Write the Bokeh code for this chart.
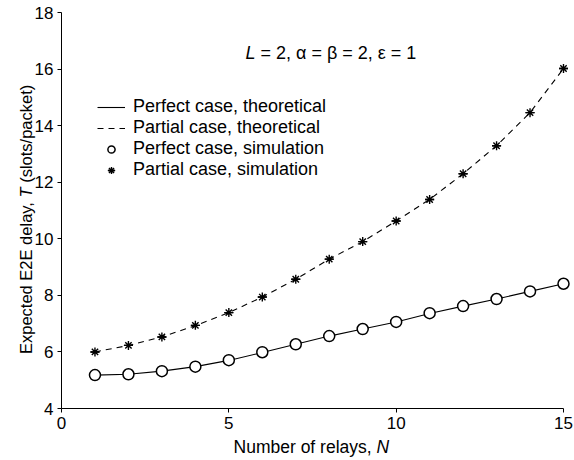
import math
from bokeh.plotting import figure
from bokeh.models import Label, Legend, LegendItem, Range1d, FixedTicker
from bokeh.embed import file_html
from bokeh.resources import INLINE

# ---- data ----
relays = [1, 2, 3, 4, 5, 6, 7, 8, 9, 10, 11, 12, 13, 14, 15]
perfect_theory = [5.18, 5.21, 5.32, 5.48, 5.70, 5.98, 6.27, 6.56, 6.81, 7.06, 7.36, 7.62, 7.87, 8.14, 8.41]
partial_theory = [6.00, 6.23, 6.53, 6.93, 7.39, 7.94, 8.57, 9.28, 9.90, 10.63, 11.39, 12.30, 13.29, 14.46, 16.02]
perfect_sim = [5.18, 5.21, 5.32, 5.48, 5.71, 5.99, 6.27, 6.56, 6.81, 7.06, 7.37, 7.62, 7.87, 8.14, 8.41]
partial_sim = [6.00, 6.23, 6.53, 6.94, 7.39, 7.94, 8.57, 9.28, 9.90, 10.63, 11.39, 12.30, 13.29, 14.46, 16.02]
x_ticks = [0, 5, 10, 15]
y_ticks = [4, 6, 8, 10, 12, 14, 16, 18]
legend_labels = ["Perfect case, theoretical", "Partial case, theoretical",
                 "Perfect case, simulation", "Partial case, simulation"]

FONT = "Liberation Sans"
NB = "\u00a0"

# ---- layout: the frame covers the whole canvas, axes sit at fixed data positions ----
W, H = 574, 460
X0, X1, Y0, Y1 = 0, 15, 4, 18
BL, BR, BT, BB = 61, 563, 12, 408          # pixel box of the data area
xs = (BR - BL) / (X1 - X0)
ys = (BB - BT) / (Y1 - Y0)
x_start, x_end = X0 - BL / xs, X1 + (W - BR) / xs
y_start, y_end = Y0 - (H - BB) / ys, Y1 + BT / ys

def dx(px):
    return x_start + px / xs
def dy(py):
    return y_end - py / ys

p = figure(width=W, height=H, x_range=Range1d(x_start, x_end), y_range=Range1d(y_start, y_end),
           output_backend="svg", toolbar_location=None,
           min_border_left=0, min_border_right=0, min_border_top=0, min_border_bottom=0)
p.outline_line_color = None
p.xgrid.visible = False
p.ygrid.visible = False
p.background_fill_color = "white"
p.border_fill_color = "white"

xa, ya = p.xaxis[0], p.yaxis[0]
xa.fixed_location = Y0
ya.fixed_location = X0
xa.bounds = (X0, X1)
ya.bounds = (Y0, Y1)
for ax in (xa, ya):
    ax.axis_line_color = "black"
    ax.axis_line_width = 1
    ax.major_tick_line_color = "black"
    ax.major_tick_in = 0
    ax.major_tick_out = 4
    ax.minor_tick_line_color = None
    ax.major_label_text_font = FONT
    ax.major_label_text_font_size = "17px"
    ax.major_label_text_color = "black"
    ax.major_label_standoff = 4
xa.ticker = FixedTicker(ticks=x_ticks)
ya.ticker = FixedTicker(ticks=y_ticks)

r1 = p.line(relays, perfect_theory, line_color="black", line_width=1.1)
r2 = p.line(relays, partial_theory, line_color="black", line_width=1.1, line_dash="6 5")
r3 = p.scatter(relays, perfect_sim, marker="circle", size=11, fill_color="white",
               line_color="black", line_width=1.5)
r4a = p.scatter(relays, partial_sim, marker="asterisk", size=9, line_color="black", line_width=1.4)
r4b = p.scatter(relays, partial_sim, marker="dash", size=9, line_color="black", line_width=1.4)

legend = Legend(items=[LegendItem(label=legend_labels[0], renderers=[r1]),
                       LegendItem(label=legend_labels[1], renderers=[r2]),
                       LegendItem(label=legend_labels[2], renderers=[r3]),
                       LegendItem(label=legend_labels[3], renderers=[r4a, r4b])],
                location=(97, H - 180), padding=0, margin=0, spacing=0,
                glyph_width=28, glyph_height=18, label_height=18, label_standoff=8,
                label_text_font=FONT, label_text_font_size="18px", label_text_color="black",
                background_fill_alpha=0, border_line_alpha=0)
p.add_layout(legend, "center")

def lab(x, y, text, size, align="left", italic=False, angle=0.0):
    p.add_layout(Label(x=x, y=y, text=text, text_font=FONT, text_font_size=size,
                       text_color="black", text_align=align, text_baseline="alphabetic",
                       text_font_style="italic" if italic else "normal", angle=angle))

# annotation
lab(dx(255), dy(52), "L", "18px", align="right", italic=True)
lab(dx(255), dy(52), NB + "=" + NB + "2," + NB + "\u03b1" + NB + "=" + NB + "\u03b2" + NB + "="
    + NB + "2," + NB + "\u03b5" + NB + "=" + NB + "1", "18px")
# x label
lab(dx(376), dy(446), "Number" + NB + "of" + NB + "relays," + NB, "17.5px", align="right")
lab(dx(376), dy(446), "N", "17.5px", italic=True)
# y label (rotated)
YL = 16.5
T_AT = 197
lab(dx(25), dy(T_AT), "Expected" + NB + "E2E" + NB + "delay," + NB, f"{YL}px", align="right",
    angle=math.pi / 2)
lab(dx(25), dy(T_AT), "T", f"{YL}px", italic=True, angle=math.pi / 2)
lab(dx(25), dy(T_AT - 0.611 * YL), NB + "(slots/packet)", f"{YL}px", angle=math.pi / 2)

open("out.html", "w").write(file_html(p, INLINE))
